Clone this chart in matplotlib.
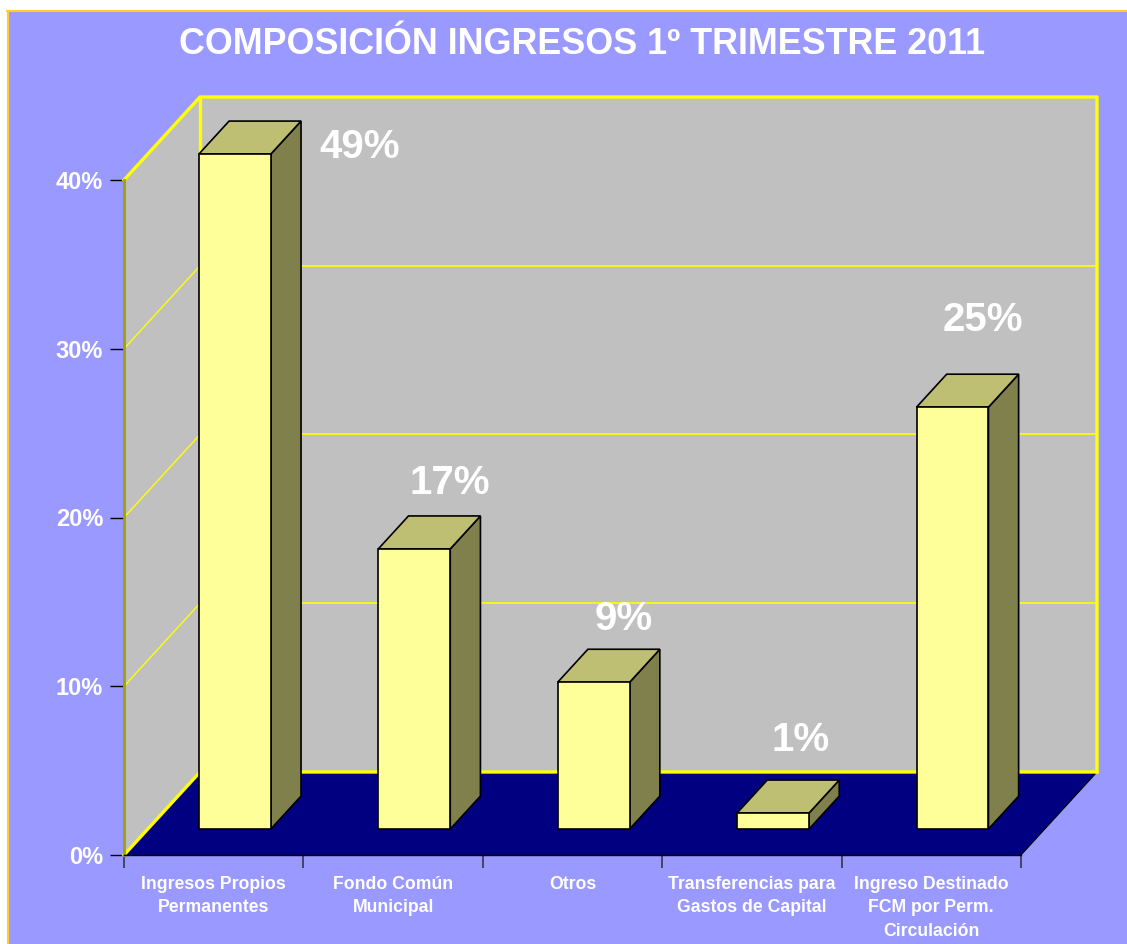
import matplotlib
matplotlib.use("Agg")
import matplotlib.pyplot as plt
from matplotlib.patches import Polygon, Rectangle
from matplotlib.lines import Line2D

plt.rcParams["font.family"] = ["Liberation Sans", "DejaVu Sans"]
plt.rcParams["font.weight"] = "bold"

categories = [
    "Ingresos Propios\nPermanentes",
    "Fondo Común\nMunicipal",
    "Otros",
    "Transferencias para\nGastos de Capital",
    "Ingreso Destinado\nFCM por Perm.\nCirculación",
]
values = [49, 16.6, 8.7, 0.95, 25]
yticks = [0, 10, 20, 30, 40]
ymax = 40
title = "COMPOSICIÓN INGRESOS 1º TRIMESTRE 2011"

# label offsets (pixels) from the top of each bar's back face
label_offsets = [(95, -26), (5, 33), (0, 30), (-3, 40), (0, 54)]

W, H = 1127, 944
fig = plt.figure(figsize=(W / 100, H / 100), dpi=100)
fig.patch.set_facecolor("white")

# outer chart area
fig.add_artist(Rectangle((8 / W, 0), 1 - 8 / W, (H - 11) / H, transform=fig.transFigure,
                         facecolor="#9999FF", edgecolor="none", zorder=0))
fig.add_artist(Line2D([7 / W, 1], [1 - 10.5 / H, 1 - 10.5 / H], transform=fig.transFigure,
                      color="#FFCC33", lw=1.5, zorder=1))
fig.add_artist(Line2D([7.5 / W, 7.5 / W], [0, 1 - 10.5 / H], transform=fig.transFigure,
                      color="#FFCC33", lw=1.5, zorder=1))

fig.text(582 / W, 1 - 45 / H, title, ha="center", va="center", color="white",
         fontsize=25.8, fontweight="bold")

ax = fig.add_axes([124 / W, (H - 855) / H, (1021 - 124) / W, 675 / H])
ax.patch.set_visible(False)
n = len(categories)
ax.set_xlim(0, n)
ax.set_ylim(0, ymax)

# depth of the 3d box, in data units
DX = 76 / (897 / n)
DY = 83 / (675 / ymax)

grey = "#C0C0C0"
yel = "#FFFF00"

# walls and floor
ax.add_patch(Polygon([(DX, DY), (n + DX, DY), (n + DX, ymax + DY), (DX, ymax + DY)],
                     closed=True, facecolor=grey, edgecolor="none", clip_on=False, zorder=1))
ax.add_patch(Polygon([(0, 0), (DX, DY), (DX, ymax + DY), (0, ymax)],
                     closed=True, facecolor=grey, edgecolor="none", clip_on=False, zorder=1))
for t in yticks[1:-1]:
    ax.plot([DX, n + DX], [t + DY, t + DY], color=yel, lw=1.2, clip_on=False, zorder=2)
    ax.plot([0, DX], [t, t + DY], color=yel, lw=1.0, clip_on=False, zorder=2)
ax.add_patch(Polygon([(0, 0), (n, 0), (n + DX, DY), (DX, DY)],
                     closed=True, facecolor="#000080", edgecolor="none", clip_on=False, zorder=3))
ax.plot([n, n + DX], [0, DY], color="black", lw=0.8, clip_on=False, zorder=3)

# thick yellow borders
border = dict(color=yel, lw=2.4, clip_on=False, zorder=4, solid_capstyle="projecting")
ax.plot([0, DX, n + DX, n + DX], [ymax, ymax + DY, ymax + DY, DY], **border)
ax.plot([DX, DX], [DY, ymax + DY], **border)
ax.plot([0, DX, n + DX], [0, DY, DY], **border)
ax.plot([0, 0], [0, ymax], color="#A0A000", lw=2, clip_on=False, zorder=4)

# bars
d1, d2 = 0.313, 0.71
bw = 0.401
for i, val in enumerate(values):
    v = min(val, ymax)
    x0 = i + 0.285
    xa, xb = x0 + d1 * DX, x0 + bw + d1 * DX
    ya = d1 * DY
    ox, oy = (d2 - d1) * DX, (d2 - d1) * DY
    kw = dict(closed=True, edgecolor="black", lw=1.2, clip_on=False, zorder=6,
              joinstyle="miter")
    ax.add_patch(Polygon([(xb, ya), (xb + ox, ya + oy), (xb + ox, ya + v + oy), (xb, ya + v)],
                         facecolor="#80804C", **kw))
    ax.add_patch(Polygon([(xa, ya + v), (xb, ya + v), (xb + ox, ya + v + oy), (xa + ox, ya + v + oy)],
                         facecolor="#BFBF73", **kw))
    ax.add_patch(Polygon([(xa, ya), (xb, ya), (xb, ya + v), (xa, ya + v)],
                         facecolor="#FFFF99", **kw))
    ax.annotate("{:.0f}%".format(val), ((xa + xb) / 2 + ox, ya + v + oy),
                xytext=label_offsets[i], textcoords="offset pixels",
                ha="center", va="center", color="white", fontsize=29,
                fontweight="bold", zorder=7, annotation_clip=False)

# axes, ticks, labels
for s in ["top", "right", "left"]:
    ax.spines[s].set_visible(False)
ax.spines["bottom"].set_color("black")
ax.spines["bottom"].set_linewidth(1)
ax.spines["bottom"].set_zorder(5)

ax.set_yticks(yticks)
ax.set_yticklabels(["{}%".format(t) for t in yticks])
ax.set_xticks(range(n + 1))
ax.set_xticklabels([])
ax.set_xticks([i + 0.5 for i in range(n)], minor=True)
ax.set_xticklabels(categories, minor=True)
ax.tick_params(axis="y", length=10, width=1, color="black", pad=5,
               labelsize=17, labelcolor="white")
ax.tick_params(axis="x", which="major", length=9.5, width=1.2, color="#333355")
ax.tick_params(axis="x", which="minor", length=0, pad=15, labelsize=12.7,
               labelcolor="white")
for lab in ax.get_xticklabels(minor=True):
    lab.set_linespacing(1.5)
    lab.set_fontweight("bold")
for lab in ax.get_yticklabels():
    lab.set_fontweight("bold")

fig.savefig("out.png", dpi=100)
